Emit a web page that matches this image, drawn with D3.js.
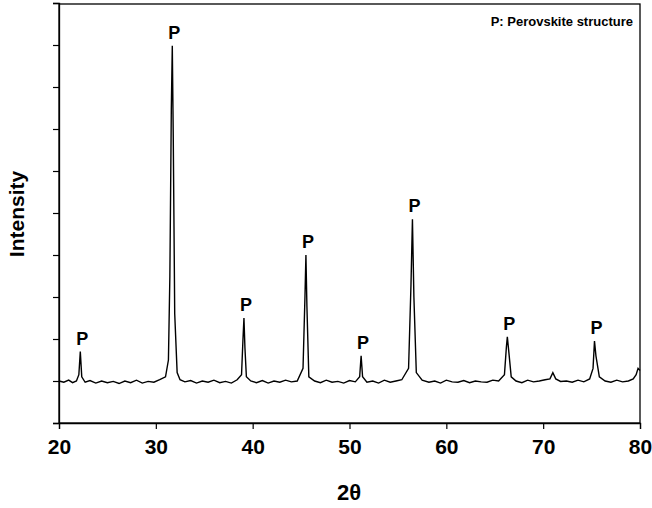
<!DOCTYPE html>
<html><head><meta charset="utf-8">
<script src="https://cdn.jsdelivr.net/npm/d3@7"></script>
<style>body{margin:0;background:#fff}</style>
</head><body>
<svg id="chart" width="652" height="508"></svg>
<script>
// pattern: 2theta and intensity (axis units 0..10)
var twoTheta = [20,20.5,21,21.4,21.8,22.05,22.2,22.35,22.7,23.2,23.8,24.4,25,25.6,26.2,26.8,27.4,28,28.6,29.2,29.8,30.4,31.0,31.3,31.45,31.6,31.7,31.8,31.95,32.2,32.5,33,33.6,34.2,34.8,35.4,36,36.6,37.2,37.8,38.4,38.85,39.0,39.1,39.2,39.35,39.8,40.4,41,41.6,42.2,42.8,43.4,44,44.6,45.2,45.4,45.5,45.6,45.8,46.4,47,47.6,48.2,48.8,49.4,50,50.6,51.05,51.2,51.35,51.8,52.4,53,53.6,54.2,54.8,55.4,56.1,56.35,56.5,56.65,56.9,57.5,58.2,58.8,59.4,60,60.6,61.2,61.8,62.4,63,63.6,64.2,64.8,65.4,66.0,66.2,66.3,66.45,66.7,67.2,67.8,68.4,69,69.6,70.2,70.7,71.0,71.3,71.8,72.4,73,73.6,74.2,74.8,75.15,75.3,75.45,75.8,76.4,77,77.6,78.2,78.8,79.3,79.6,79.8,80];
var intensity = [1.0,0.97,1.02,0.96,1.0,1.15,1.7,1.1,0.97,1.01,0.95,1.0,0.96,0.99,0.94,1.0,0.96,1.02,0.95,0.99,0.97,1.03,1.1,1.5,3.5,7.5,8.98,6.8,2.6,1.2,1.03,0.98,1.01,0.95,1.0,0.97,1.02,0.96,0.99,0.95,1.03,1.15,2.0,2.5,1.8,1.1,1.0,0.96,1.01,0.95,1.0,0.97,1.02,0.98,1.0,1.3,3.0,4.0,2.8,1.1,1.0,0.96,1.02,0.97,0.99,0.95,1.01,0.98,1.1,1.6,1.1,0.97,1.0,0.95,1.02,0.97,1.0,1.03,1.3,3.3,4.85,3.0,1.2,1.02,0.97,1.0,0.95,1.02,0.98,0.97,1.01,0.96,1.0,0.98,0.97,1.02,1.0,1.15,1.8,2.05,1.7,1.1,1.0,0.96,1.02,0.98,1.0,1.03,1.05,1.2,1.05,0.99,1.0,0.97,1.02,0.98,1.05,1.3,1.95,1.6,1.1,1.0,0.97,1.02,0.98,1.0,1.05,1.15,1.3,1.25];
var xTicks = [20,30,40,50,60,70,80];
var yTicks = d3.range(0,11);
var peakLabels = [
  {t:22.2,i:1.7},{t:31.7,i:8.98},{t:39.1,i:2.5},{t:45.5,i:4.0},{t:51.2,i:1.6},
  {t:56.5,i:4.85},{t:66.3,i:2.05},{t:75.3,i:1.95}
];

var svg = d3.select("#chart");
var x = d3.scaleLinear().domain([20,80]).range([59,640]);
var y = d3.scaleLinear().domain([0,10]).range([423,3]);

// frame
svg.append("rect").attr("x",59).attr("y",4).attr("width",581).attr("height",419)
  .attr("fill","none").attr("stroke","#000").attr("stroke-width",1.3);

var xAxis = svg.append("g").attr("transform","translate(0,423)")
  .call(d3.axisBottom(x).tickValues(xTicks).tickSize(6).tickPadding(10));
var yAxis = svg.append("g").attr("transform","translate(59,0)")
  .call(d3.axisLeft(y).tickValues(yTicks).tickSize(6).tickFormat(""));
[xAxis,yAxis].forEach(function(a){
  a.select(".domain").attr("stroke-width",1.3);
  a.selectAll(".tick line").attr("stroke-width",1.2);
});
xAxis.selectAll("text").attr("font-family","Arial, Liberation Sans, sans-serif")
  .attr("font-size",21).attr("font-weight","bold").attr("fill","#000");

var line = d3.line().x(function(d,i){return x(twoTheta[i]);}).y(function(d){return y(d);});
svg.append("path").datum(intensity).attr("d",line)
  .attr("fill","none").attr("stroke","#000").attr("stroke-width",1.4);

svg.selectAll(".plab").data(peakLabels).enter().append("text")
  .attr("x",function(d){return x(d.t)+2;}).attr("y",function(d){return y(d.i)-7;})
  .attr("text-anchor","middle").attr("font-family","Arial, Liberation Sans, sans-serif")
  .attr("font-size",18).attr("font-weight","bold").text("P");

svg.append("text").attr("x",633).attr("y",26).attr("text-anchor","end")
  .attr("font-family","Arial, Liberation Sans, sans-serif").attr("font-size",13)
  .attr("font-weight","bold").text("P: Perovskite structure");

svg.append("text").attr("transform","translate(24,214) rotate(-90)")
  .attr("text-anchor","middle").attr("font-family","Arial, Liberation Sans, sans-serif")
  .attr("font-size",21).attr("font-weight","bold").text("Intensity");
svg.append("text").attr("x",349).attr("y",500).attr("text-anchor","middle")
  .attr("font-family","Arial, Liberation Sans, sans-serif")
  .attr("font-size",22).attr("font-weight","bold").text("2θ");
</script>
</body></html>
